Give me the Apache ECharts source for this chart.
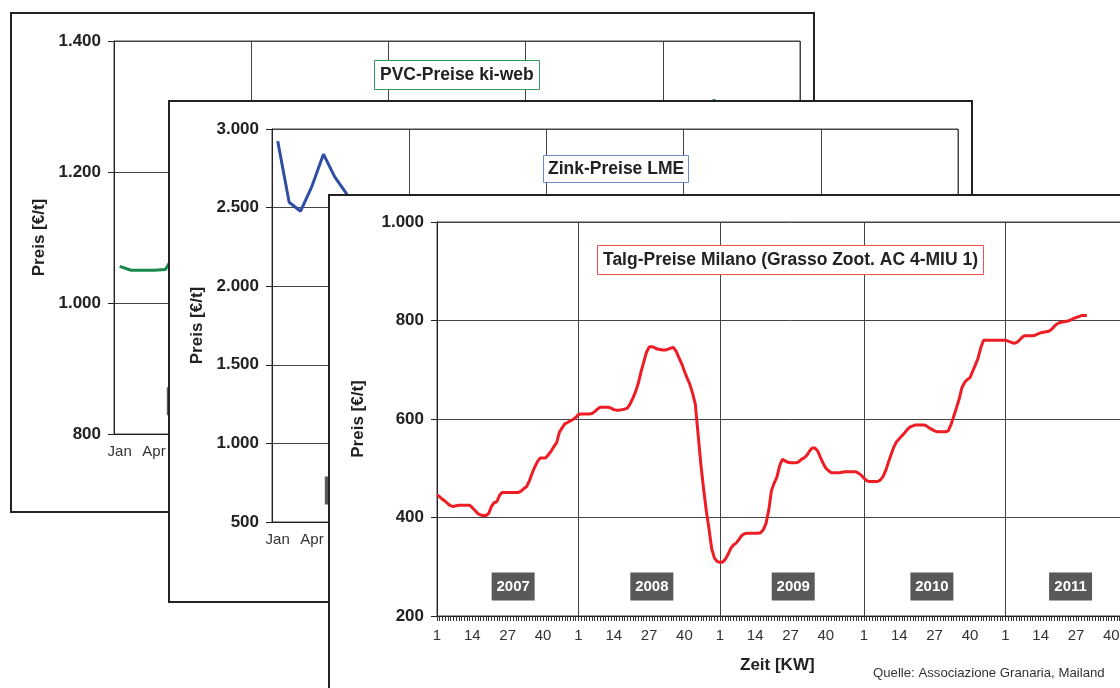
<!DOCTYPE html>
<html>
<head>
<meta charset="utf-8">
<script src="https://cdn.jsdelivr.net/npm/echarts@6/dist/echarts.min.js"></script>
<style>
html, body { margin: 0; padding: 0; background: #fff; overflow: hidden; width: 1120px; height: 688px; }
.panel { position: absolute; border: 2px solid #222; background: #fff; box-sizing: border-box; }
.panel div.chart { width: 100%; height: 100%; }
#pvc { left: 10px; top: 12px; width: 805px; height: 501px; }
#zink { left: 168px; top: 100px; width: 805px; height: 503px; }
#talg { left: 328px; top: 194px; width: 835px; height: 503px; }
</style>
</head>
<body>
<div class="panel" id="pvc"><div class="chart" id="pvcChart"></div></div>
<div class="panel" id="zink"><div class="chart" id="zinkChart"></div></div>
<div class="panel" id="talg"><div class="chart" id="talgChart"></div></div>
<script>
var fontFamily = 'Arial, "Liberation Sans", sans-serif';

var monthNames = ['Jan', 'Feb', 'Mär', 'Apr', 'Mai', 'Jun', 'Jul', 'Aug', 'Sep', 'Okt', 'Nov', 'Dez'];
var years = [2007, 2008, 2009, 2010, 2011];
var weeksPerYear = [52, 52, 53, 52, 52];

// PVC-Preise ki-web, Monatswerte in €/t ab Jan 2007
var pvcPrices = [
	1056, 1050, 1050, 1050, 1051, 1080, 1095, 1100, 1105, 1110, 1100, 1090,
	1085, 1090, 1100, 1120, 1140, 1160, 1170, 1160, 1120, 1050, 950, 870,
	830, 820, 840, 880, 900, 920, 940, 950, 960, 960, 950, 960,
	990, 1030, 1080, 1120, 1140, 1130, 1110, 1100, 1110, 1130, 1150, 1170,
	1200, 1230, 1260, 1290, 1310, 1280, 1250
];

// Zink-Preise LME, Monatswerte in €/t ab Jan 2007
var zinkPrices = [
	2923, 2534, 2477, 2637, 2840, 2694, 2590, 2400, 2200, 2350, 1950, 1750,
	1650, 1700, 1650, 1450, 1400, 1350, 1200, 1150, 1200, 1000, 950, 900,
	900, 850, 950, 1050, 1100, 1100, 1150, 1300, 1300, 1450, 1500, 1650,
	1650, 1550, 1700, 1750, 1600, 1450, 1450, 1550, 1550, 1700, 1700, 1700,
	1750, 1800, 1650, 1650, 1550, 1600, 1650
];

// Talg-Preise Milano, Wochenwerte in €/t (KW 1 ...)
var talg2007 = [446, 442, 437, 433, 428, 424, 422, 424, 425, 425, 425, 425, 425, 420, 414, 408, 405, 404, 404, 408,
	422, 430, 432, 445, 451, 451, 451, 451, 451, 451, 451, 454, 459, 463, 475, 490, 503, 514, 521, 521,
	521, 528, 535, 544, 552, 573, 582, 590, 593, 596, 599, 603];
var talg2008 = [609, 610, 610, 610, 610, 611, 615, 620, 624, 624, 624, 624, 622, 619, 618, 618, 619, 620, 622, 630,
	642, 655, 672, 695, 715, 735, 746, 747, 745, 742, 741, 740, 740, 742, 744, 745, 737, 724, 712, 697,
	683, 670, 652, 630, 570, 510, 460, 415, 378, 337, 318, 311];
var talg2009 = [309, 309, 315, 325, 337, 344, 348, 355, 363, 367, 368, 368, 368, 368, 368, 369, 375, 388, 415, 455,
	470, 482, 505, 518, 515, 512, 511, 511, 511, 513, 518, 521, 526, 535, 541, 541, 535, 522, 510, 500,
	495, 491, 491, 491, 491, 492, 493, 493, 493, 493, 493, 490, 486];
var talg2010 = [480, 475, 473, 473, 473, 473, 476, 483, 495, 512, 528, 543, 554, 560, 566, 572, 579, 584, 586, 588,
	588, 588, 588, 586, 582, 579, 576, 574, 574, 574, 574, 576, 588, 605, 622, 640, 663, 674, 680, 684,
	697, 710, 724, 745, 760, 760, 760, 760, 760, 760, 760, 760];
var talg2011 = [760, 758, 756, 754, 755, 759, 765, 769, 769, 769, 769, 770, 773, 775, 776, 777, 778, 782, 788, 793,
	796, 797, 798, 799, 801, 804, 806, 808, 810, 810, 810];

var weekLabels = [1, 14, 27, 40];

function dotted(v) {
	return String(v).replace(/\B(?=(\d{3})+(?!\d))/g, '.');
}

// Monats-Kategorien "Jan 2007" ...
var monthCats = [];
for (var y = 0; y < years.length; y++) {
	for (var m = 0; m < 12; m++) {
		monthCats.push(monthNames[m] + ' ' + years[y]);
	}
}

// Wochen-Kategorien "2007-1" ...
var weekCats = [];
for (var y = 0; y < years.length; y++) {
	for (var w = 1; w <= weeksPerYear[y]; w++) {
		weekCats.push(years[y] + '-' + w);
	}
}
var talgPrices = [].concat(talg2007, talg2008, talg2009, talg2010, talg2011);

function yAxisOpt(min, max, step, gap) {
	return {
		type: 'value', min: min, max: max, interval: step,
		name: 'Preis [€/t]', nameLocation: 'middle', nameGap: gap,
		nameTextStyle: { fontFamily: fontFamily, fontSize: 17, fontWeight: 'bold', color: '#222' },
		axisLine: { show: true, lineStyle: { color: '#222', width: 1 } },
		axisTick: { show: true, length: 6, lineStyle: { color: '#222' } },
		axisLabel: { formatter: dotted, fontFamily: fontFamily, fontSize: 17, fontWeight: 'bold', color: '#222', margin: 13 },
		splitLine: { show: true, lineStyle: { color: '#444', width: 1 } }
	};
}

function yearBoxes(coords) {
	return {
		silent: true,
		symbol: 'rect',
		symbolSize: [43, 28],
		itemStyle: { color: '#595959' },
		label: { show: true, position: 'inside', formatter: function (p) { return p.name; },
			color: '#fff', fontFamily: fontFamily, fontSize: 15, fontWeight: 'bold' },
		data: coords
	};
}

function titleBox(text, left, top, border, pad) {
	return {
		text: text, left: left, top: top, padding: pad,
		borderColor: border, borderWidth: 1, backgroundColor: '#fff',
		textStyle: { fontFamily: fontFamily, fontSize: 17.5, fontWeight: 'bold', color: '#222' }
	};
}

function monthPanel(el, title, yOpt, prices, color, boxValue) {
	var chart = echarts.init(document.getElementById(el), null, { renderer: 'canvas' });
	var boxes = [];
	for (var k = 0; k < years.length; k++) {
		boxes.push({ name: String(years[k]), coord: [k * 12 + 6, boxValue] });
	}
	chart.setOption({
		animation: false,
		backgroundColor: '#fff',
		title: title,
		grid: { left: 102, top: 27, width: 686, height: 393, show: true, borderColor: '#444', borderWidth: 1 },
		xAxis: {
			type: 'category', data: monthCats, boundaryGap: true,
			axisLine: { lineStyle: { color: '#222' } },
			axisTick: { interval: 0, length: 5, lineStyle: { color: '#222' } },
			axisLabel: {
				interval: function (i) { return i % 3 === 0; },
				formatter: function (v) { return v.split(' ')[0]; },
				fontFamily: fontFamily, fontSize: 15, color: '#333', margin: 10
			},
			splitLine: { show: true, interval: function (i) { return i % 12 === 0; }, lineStyle: { color: '#444' } }
		},
		yAxis: yOpt,
		series: [{
			type: 'line', data: prices, symbol: 'none', smooth: false,
			lineStyle: { color: color, width: 3 },
			markPoint: yearBoxes(boxes)
		}]
	});
	return chart;
}

monthPanel('pvcChart', titleBox('PVC-Preise ki-web', 362, 46, '#2f9a5c', [6, 6]),
	yAxisOpt(800, 1400, 200, 64), pvcPrices, '#17894a', 850);

monthPanel('zinkChart', titleBox('Zink-Preise LME', 373, 53, '#6f86d6', [5, 5]),
	yAxisOpt(500, 3000, 500, 66), zinkPrices, '#2f4ea3', 700);

// Talg-Preise Milano (Wochenwerte)
var talgChart = echarts.init(document.getElementById('talgChart'));
var talgBoxes = [];
for (var k = 0; k < years.length; k++) {
	// Jahresfelder gleichmäßig unter der Jahresmitte
	talgBoxes.push({ name: String(years[k]), coord: [Math.round(28 + k * 51.3), 260] });
}
talgChart.setOption({
	animation: false,
	backgroundColor: '#fff',
	title: [
		titleBox('Talg-Preise Milano (Grasso Zoot. AC 4-MIU 1)', 267, 49, '#f05050', [6, 6]),
		{ text: 'Zeit [KW]', left: 410, top: 461, padding: 0,
			textStyle: { fontFamily: fontFamily, fontSize: 17, fontWeight: 'bold', color: '#222' } },
		{ text: 'Quelle: Associazione Granaria, Mailand', left: 543, top: 471, padding: 0,
			textStyle: { fontFamily: fontFamily, fontSize: 13.2, fontWeight: 'normal', color: '#333' } }
	],
	grid: { left: 107, top: 26, width: 707, height: 394, show: true, borderColor: '#444', borderWidth: 1 },
	xAxis: {
		type: 'category', data: weekCats, boundaryGap: false,
		axisLine: { lineStyle: { color: '#222' } },
		axisTick: { interval: 0, length: 5, lineStyle: { color: '#333' } },
		axisLabel: {
			interval: function (i, v) { return weekLabels.indexOf(+v.split('-')[1]) >= 0; },
			formatter: function (v) { return v.split('-')[1]; },
			fontFamily: fontFamily, fontSize: 15, color: '#333', margin: 12
		},
		splitLine: { show: true, interval: function (i, v) { return v.split('-')[1] === '1'; }, lineStyle: { color: '#444' } }
	},
	yAxis: yAxisOpt(200, 1000, 200, 70),
	series: [{
		type: 'line', data: talgPrices, symbol: 'none', smooth: false,
		lineStyle: { color: '#ee1c25', width: 3 },
		markPoint: yearBoxes(talgBoxes)
	}]
});
</script>
</body>
</html>
